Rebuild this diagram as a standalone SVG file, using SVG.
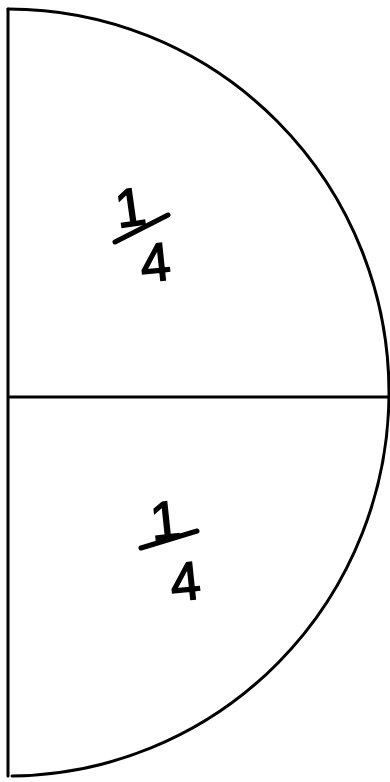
<svg xmlns="http://www.w3.org/2000/svg" width="390" height="782" viewBox="0 0 390 782">
<style>
.ln{fill:none;stroke:#000;stroke-width:3;stroke-linecap:round;stroke-linejoin:round}
.bar{stroke:#000;stroke-width:5;stroke-linecap:round}
.num{font-family:"Liberation Sans",Arial,sans-serif;font-size:54px;fill:#000;stroke:#000;stroke-width:1.5;text-anchor:middle}
</style>
<rect width="390" height="782" fill="#fff"/>
<g id="shape">
<path class="ln" d="M8,9 L8,776"/>
<path class="ln" d="M8,9 A381,384 0 0 1 389,393 A381,384 0 0 1 12,776"/>
<path class="ln" d="M10,397 L390,397"/>
</g>
<g id="label-top">
<text class="num" x="130" y="226" transform="rotate(-8 130 206)">1</text>
<line class="bar" x1="115" y1="242" x2="168" y2="215"/>
<text class="num" x="155" y="281" transform="rotate(-6 155 261)">4</text>
</g>
<g id="label-bottom">
<text class="num" x="165" y="539" transform="rotate(-6 165 519)">1</text>
<line class="bar" x1="141" y1="548" x2="197" y2="531"/>
<text class="num" x="185" y="600" transform="rotate(-6 185 578)">4</text>
</g>
</svg>
